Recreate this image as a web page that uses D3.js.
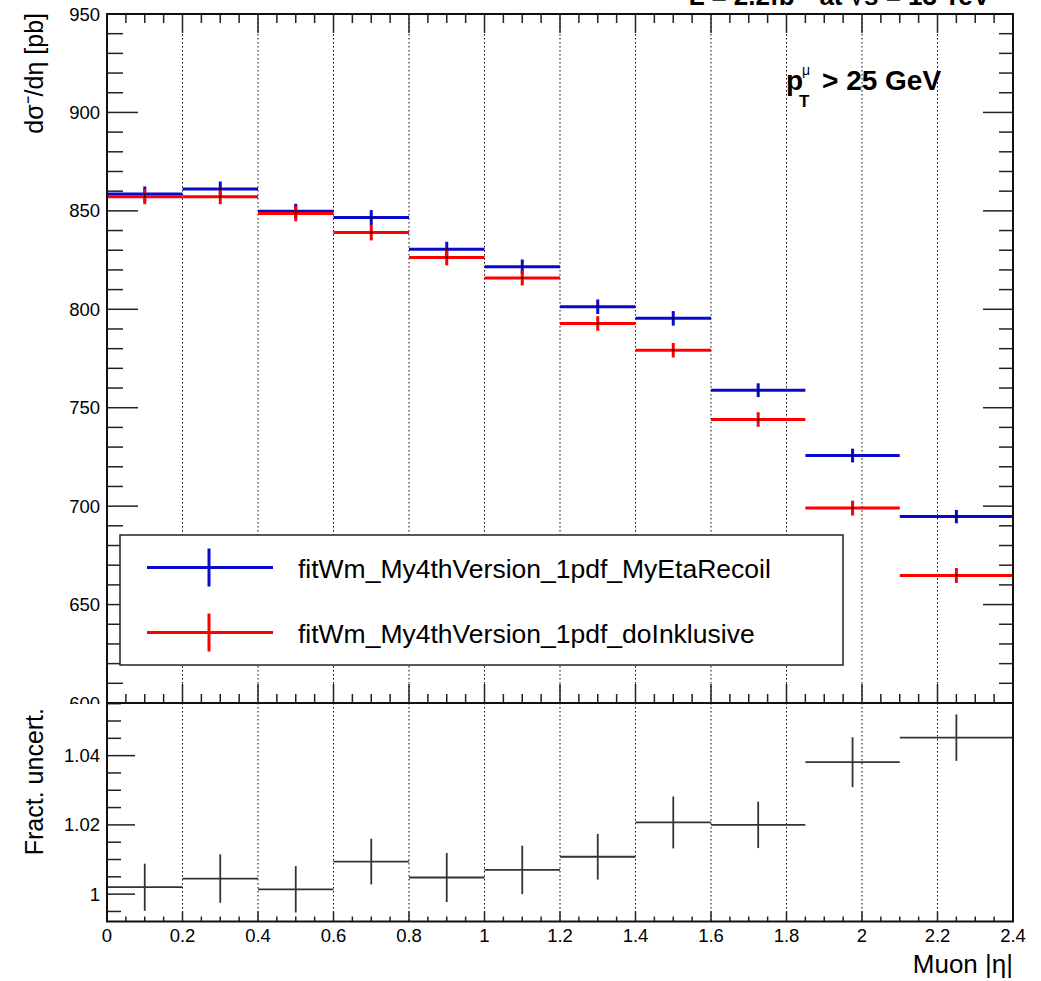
<!DOCTYPE html>
<html>
<head>
<meta charset="utf-8">
<script src="https://cdn.jsdelivr.net/npm/d3@7"></script>
<style>
  body { margin: 0; background: #fff; }
  svg { display: block; font-family: "Liberation Sans", Arial, Helvetica, sans-serif; }
</style>
</head>
<body>
<div id="container"></div>
<script>
"use strict";
// bin edges in |eta| and the two cross section series (pb)
const binEdges = [0, 0.2, 0.4, 0.6, 0.8, 1.0, 1.2, 1.4, 1.6, 1.85, 2.1, 2.4];
const blueVals = [858.6, 861.1, 849.8, 846.6, 830.5, 821.6, 801.3, 795.4, 758.9, 725.7, 694.7];
const blueErrs = [3.8, 3.8, 3.8, 3.8, 3.8, 3.7, 3.7, 3.7, 3.5, 3.5, 3.4];
const redVals  = [857.2, 857.2, 848.6, 839.0, 826.3, 815.9, 792.8, 779.2, 744.0, 699.0, 664.8];
const redErrs  = [3.8, 3.8, 3.9, 4.0, 4.0, 3.8, 3.7, 3.7, 3.7, 3.8, 3.8];
// ratio panel
const ratioVals = [1.0020, 1.0045, 1.0014, 1.0094, 1.0048, 1.0070, 1.0108, 1.0207, 1.0200, 1.0381, 1.0452];
const ratioErrs = [0.0068, 0.0070, 0.0067, 0.0066, 0.0071, 0.0070, 0.0066, 0.0075, 0.0067, 0.0072, 0.0067];

const xTicks = [0, 0.2, 0.4, 0.6, 0.8, 1, 1.2, 1.4, 1.6, 1.8, 2, 2.2, 2.4];
const topTicks = [600, 650, 700, 750, 800, 850, 900, 950];
const botTicks = [1, 1.02, 1.04];
const legendLabels = ["fitWm_My4thVersion_1pdf_MyEtaRecoil", "fitWm_My4thVersion_1pdf_doInklusive"];

const blue = "#0a0acc", red = "#ff0000";
const W = 1041, H = 981;
const frameL = 107, frameR = 1013, frameT = 14, frameM = 703, frameB = 921.5;

const svg = d3.select("#container").append("svg")
    .attr("width", W)
    .attr("height", H);

const x = d3.scaleLinear().domain([0, 2.4]).range([frameL, frameR]);
const yTop = d3.scaleLinear().domain([600, 950]).range([frameM, frameT]);
const yBot = d3.scaleLinear().domain([0.9921, 1.0552]).range([frameB, frameM]);

const bins = d3.range(blueVals.length).map(i => ({
    lo: binEdges[i], hi: binEdges[i + 1], c: (binEdges[i] + binEdges[i + 1]) / 2
}));

// header, clipped at the top of the canvas like in the original
svg.append("text")
    .attr("x", 990).attr("y", 5)
    .attr("text-anchor", "end")
    .attr("font-weight", "bold")
    .attr("font-size", 26)
    .text("L = 2.2fb\u207B\u00B9 at \u221As = 13 TeV");

/* ---------- top panel ---------- */
const gTop = svg.append("g");

// dotted vertical grid
gTop.selectAll(".grid")
    .data(xTicks.slice(1, -1))
    .enter().append("line")
    .attr("x1", d => x(d)).attr("x2", d => x(d))
    .attr("y1", frameT).attr("y2", frameM)
    .attr("stroke", "#000").attr("stroke-width", 1)
    .attr("stroke-dasharray", "1.5,2.5");

const minorX = d3.range(0, 2.401, 0.05);
const majorX = new Set(xTicks.map(d => d.toFixed(2)));

// x ticks on the top edge and the bottom edge of the top panel
minorX.forEach(v => {
    const len = majorX.has(v.toFixed(2)) ? 19 : 9;
    gTop.append("line")
        .attr("x1", x(v)).attr("x2", x(v))
        .attr("y1", frameT).attr("y2", frameT + len)
        .attr("stroke", "#222").attr("stroke-width", 1.5);
    gTop.append("line")
        .attr("x1", x(v)).attr("x2", x(v))
        .attr("y1", frameM).attr("y2", frameM - len)
        .attr("stroke", "#222").attr("stroke-width", 1.5);
});

// y ticks left and right
d3.range(600, 951, 10).forEach(v => {
    const major = v % 50 === 0;
    gTop.append("line")
        .attr("x1", frameL).attr("x2", frameL + (major ? 31 : 16))
        .attr("y1", yTop(v)).attr("y2", yTop(v))
        .attr("stroke", "#222").attr("stroke-width", 1.5);
    gTop.append("line")
        .attr("x1", frameR).attr("x2", frameR - (major ? 30 : 14))
        .attr("y1", yTop(v)).attr("y2", yTop(v))
        .attr("stroke", "#222").attr("stroke-width", 1.5);
});

gTop.selectAll(".ylab")
    .data(topTicks)
    .enter().append("text")
    .attr("x", 100).attr("y", d => yTop(d) + 6.5)
    .attr("text-anchor", "end")
    .attr("font-size", 18.5)
    .text(d => d);

// histogram points with error bars
const drawSeries = function (g, vals, errs, y, color, width) {
    const s = g.append("g");
    s.selectAll(".h").data(bins).enter().append("line")
        .attr("x1", d => x(d.lo)).attr("x2", d => x(d.hi))
        .attr("y1", (d, i) => y(vals[i])).attr("y2", (d, i) => y(vals[i]))
        .attr("stroke", color).attr("stroke-width", width);
    s.selectAll(".v").data(bins).enter().append("line")
        .attr("x1", d => x(d.c)).attr("x2", d => x(d.c))
        .attr("y1", (d, i) => y(vals[i] - errs[i])).attr("y2", (d, i) => y(vals[i] + errs[i]))
        .attr("stroke", color).attr("stroke-width", width);
    return s;
};

drawSeries(gTop, blueVals, blueErrs, yTop, blue, 3);
drawSeries(gTop, redVals, redErrs, yTop, red, 3);

// small markers at the centres
gTop.selectAll(".mk").data(bins.concat(bins)).enter().append("rect")
    .attr("x", d => x(d.c) - 1)
    .attr("y", (d, i) => yTop(i < bins.length ? blueVals[i] : redVals[i - bins.length]) - 1)
    .attr("width", 2).attr("height", 2)
    .attr("fill", "#000");

// frame
gTop.append("rect")
    .attr("x", frameL).attr("y", frameT)
    .attr("width", frameR - frameL).attr("height", frameM - frameT)
    .attr("fill", "none").attr("stroke", "#111").attr("stroke-width", 2);

// legend
const leg = gTop.append("g");
leg.append("rect")
    .attr("x", 120).attr("y", 535)
    .attr("width", 723).attr("height", 130)
    .attr("fill", "#fff").attr("stroke", "#222").attr("stroke-width", 1.5);
[blue, red].forEach((c, i) => {
    const ly = 567.5 + i * 65;
    leg.append("line").attr("x1", 147).attr("x2", 273).attr("y1", ly).attr("y2", ly)
        .attr("stroke", c).attr("stroke-width", 3);
    leg.append("line").attr("x1", 209).attr("x2", 209).attr("y1", ly - 19).attr("y2", ly + 19)
        .attr("stroke", c).attr("stroke-width", 3);
    leg.append("text")
        .attr("x", 298).attr("y", ly + 10)
        .attr("font-size", 26.5)
        .text(legendLabels[i]);
});

// pT cut label
const pt = gTop.append("g").attr("font-weight", "bold");
pt.append("text").attr("x", 786).attr("y", 90).attr("font-size", 28).text("p");
pt.append("text").attr("x", 799).attr("y", 107).attr("font-size", 17).text("T");
pt.append("text").attr("x", 802).attr("y", 75).attr("font-size", 14).attr("font-weight", "normal").text("\u03BC");
pt.append("text").attr("x", 822).attr("y", 90).attr("font-size", 28).text("> 25 GeV");

// y title
svg.append("text")
    .attr("transform", "translate(43,13) rotate(-90)")
    .attr("text-anchor", "end")
    .attr("font-size", 25)
    .text("d\u03C3\u207B/d\u03B7 [pb]");

/* ---------- ratio panel ---------- */
const gBot = svg.append("g");
gBot.append("rect")
    .attr("x", 0).attr("y", frameM + 1)
    .attr("width", W).attr("height", H - frameM - 1)
    .attr("fill", "#fff");

gBot.selectAll(".grid")
    .data(xTicks.slice(1, -1))
    .enter().append("line")
    .attr("x1", d => x(d)).attr("x2", d => x(d))
    .attr("y1", frameM).attr("y2", frameB)
    .attr("stroke", "#000").attr("stroke-width", 1)
    .attr("stroke-dasharray", "1.5,2.5");

minorX.forEach(v => {
    const len = majorX.has(v.toFixed(2)) ? 10 : 5;
    gBot.append("line")
        .attr("x1", x(v)).attr("x2", x(v))
        .attr("y1", frameB).attr("y2", frameB - len)
        .attr("stroke", "#222").attr("stroke-width", 1.5);
});

d3.range(0.995, 1.0551, 0.005).forEach(v => {
    const major = Math.abs(Math.round(v * 50) - v * 50) < 1e-6;
    gBot.append("line")
        .attr("x1", frameL).attr("x2", frameL + (major ? 28 : 14))
        .attr("y1", yBot(v)).attr("y2", yBot(v))
        .attr("stroke", "#222").attr("stroke-width", 1.5);
});

gBot.selectAll(".ylab")
    .data(botTicks)
    .enter().append("text")
    .attr("x", 100).attr("y", d => yBot(d) + 6.5)
    .attr("text-anchor", "end")
    .attr("font-size", 18.5)
    .text(d => d);

drawSeries(gBot, ratioVals, ratioErrs, yBot, "#333", 1.8);

gBot.append("rect")
    .attr("x", frameL).attr("y", frameM)
    .attr("width", frameR - frameL).attr("height", frameB - frameM)
    .attr("fill", "none").attr("stroke", "#111").attr("stroke-width", 2);

gBot.selectAll(".xlab")
    .data(xTicks)
    .enter().append("text")
    .attr("x", d => x(d)).attr("y", 942)
    .attr("text-anchor", "middle")
    .attr("font-size", 18.5)
    .text(d => d);

svg.append("text")
    .attr("x", frameR).attr("y", 973)
    .attr("text-anchor", "end")
    .attr("font-size", 26)
    .text("Muon |\u03B7|");

svg.append("text")
    .attr("transform", "translate(43,708) rotate(-90)")
    .attr("text-anchor", "end")
    .attr("font-size", 25)
    .text("Fract. uncert.");
</script>
</body>
</html>
